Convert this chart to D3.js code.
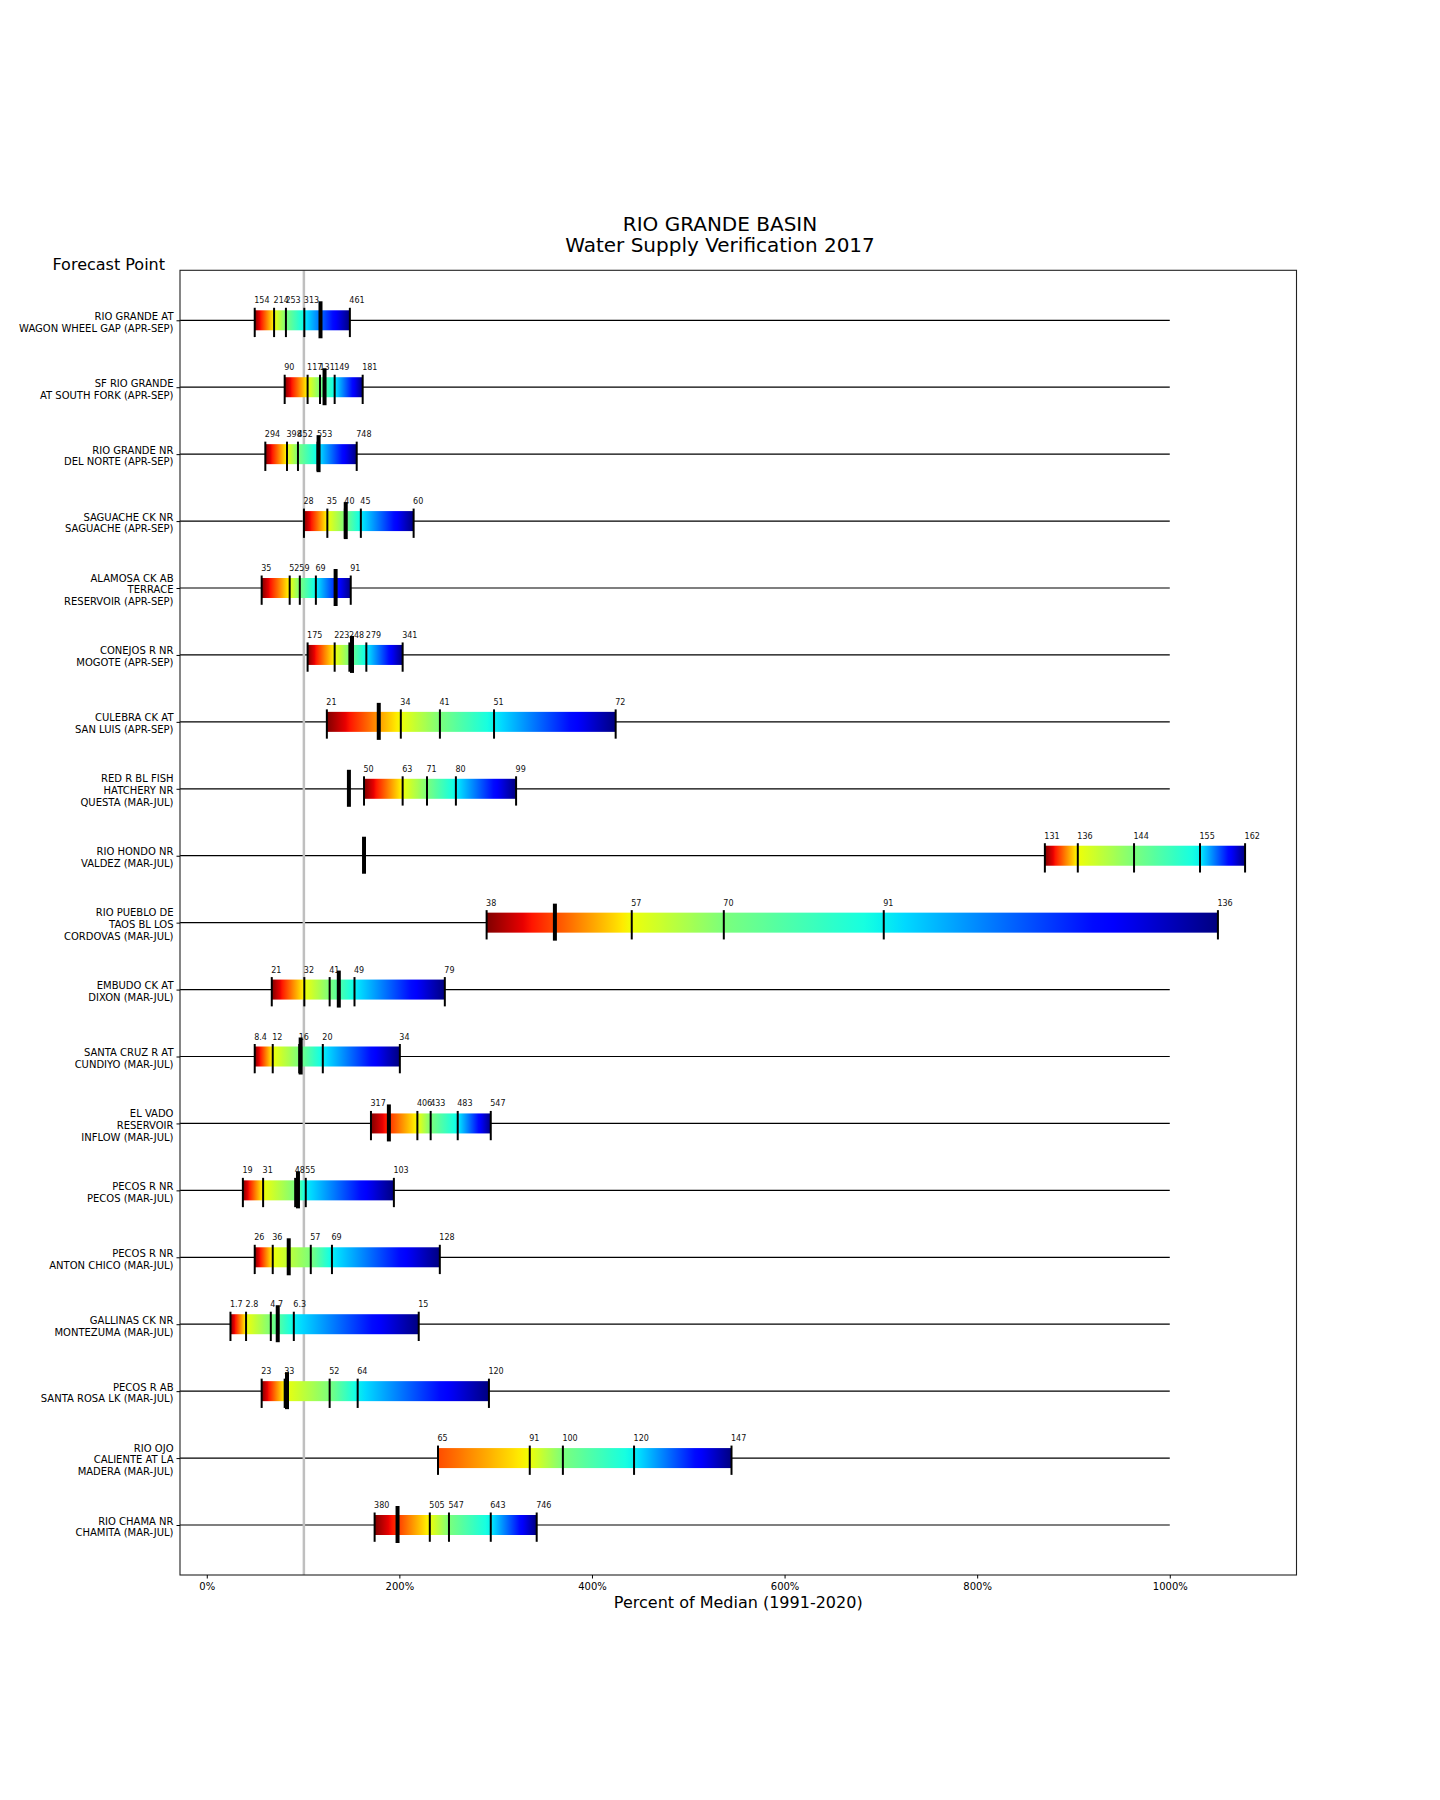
<!DOCTYPE html>
<html>
<head>
<meta charset="utf-8">
<script src="https://cdn.jsdelivr.net/npm/d3@7"></script>
<style>
  html, body { margin: 0; padding: 0; background: #fff; }
  svg { display: block; }
  text { font-family: "DejaVu Sans", sans-serif; }
</style>
</head>
<body>
<div id="chart"></div>
<script>
// ---------------- DATA ----------------
const stations = [
  "RIO GRANDE AT\nWAGON WHEEL GAP (APR-SEP)",
  "SF RIO GRANDE\nAT SOUTH FORK (APR-SEP)",
  "RIO GRANDE NR\nDEL NORTE (APR-SEP)",
  "SAGUACHE CK NR\nSAGUACHE (APR-SEP)",
  "ALAMOSA CK AB\nTERRACE\nRESERVOIR (APR-SEP)",
  "CONEJOS R NR\nMOGOTE (APR-SEP)",
  "CULEBRA CK AT\nSAN LUIS (APR-SEP)",
  "RED R BL FISH\nHATCHERY NR\nQUESTA (MAR-JUL)",
  "RIO HONDO NR\nVALDEZ (MAR-JUL)",
  "RIO PUEBLO DE\nTAOS BL LOS\nCORDOVAS (MAR-JUL)",
  "EMBUDO CK AT\nDIXON (MAR-JUL)",
  "SANTA CRUZ R AT\nCUNDIYO (MAR-JUL)",
  "EL VADO\nRESERVOIR\nINFLOW (MAR-JUL)",
  "PECOS R NR\nPECOS (MAR-JUL)",
  "PECOS R NR\nANTON CHICO (MAR-JUL)",
  "GALLINAS CK NR\nMONTEZUMA (MAR-JUL)",
  "PECOS R AB\nSANTA ROSA LK (MAR-JUL)",
  "RIO OJO\nCALIENTE AT LA\nMADERA (MAR-JUL)",
  "RIO CHAMA NR\nCHAMITA (MAR-JUL)"
];

// forecast values (90%, 70%, 50%, 30%, 10% exceedance) as percent of median
const forecastPct = [
  [49.8, 69.9, 82.2, 101.3, 148.6],
  [80.9, 104.7, 117.6, 132.8, 161.9],
  [60.8, 83.3, 94.7, 115.0, 155.7],
  [100.9, 125.2, 143.4, 160.0, 214.8],
  [57.0, 86.1, 96.6, 113.3, 149.5],
  [104.7, 132.8, 148.1, 165.7, 203.4],
  [124.7, 201.5, 242.1, 298.3, 424.6],
  [163.3, 203.4, 228.7, 258.7, 321.2],
  [870.3, 904.5, 962.9, 1031.4, 1078.2],
  [290.6, 441.3, 536.9, 703.0, 1050.0],
  [67.5, 101.3, 127.6, 153.4, 247.2],
  [49.8, 68.5, 96.0, 120.5, 200.5],
  [170.5, 218.7, 232.5, 260.6, 294.9],
  [37.5, 58.5, 91.8, 102.8, 194.3],
  [49.8, 68.5, 108.0, 130.0, 242.0],
  [24.6, 40.8, 66.5, 90.4, 220.1],
  [57.0, 80.9, 127.6, 156.7, 293.0],
  [240.1, 335.4, 369.8, 443.7, 544.9],
  [174.3, 231.6, 251.5, 294.9, 342.6]
];

// forecast volumes printed above each tick
const forecastLabels = [
  ["154", "214", "253", "313", "461"],
  ["90", "117", "131", "149", "181"],
  ["294", "398", "452", "553", "748"],
  ["28", "35", "40", "45", "60"],
  ["35", "52", "59", "69", "91"],
  ["175", "223", "248", "279", "341"],
  ["21", "34", "41", "51", "72"],
  ["50", "63", "71", "80", "99"],
  ["131", "136", "144", "155", "162"],
  ["38", "57", "70", "91", "136"],
  ["21", "32", "41", "49", "79"],
  ["8.4", "12", "16", "20", "34"],
  ["317", "406", "433", "483", "547"],
  ["19", "31", "48", "55", "103"],
  ["26", "36", "57", "69", "128"],
  ["1.7", "2.8", "4.7", "6.3", "15"],
  ["23", "33", "52", "64", "120"],
  ["65", "91", "100", "120", "147"],
  ["380", "505", "547", "643", "746"]
];

// observed volume as percent of median (null = none)
const observedPct = [
  118.1, 122.3, 116.1, 144.3, 133.8, 150.8, 178.6, 147.6, 163.3, 361.5,
  137.1, 97.5, 189.1, 94.7, 85.1, 73.7, 83.3, null, 198.1
];

const xTicks = [0, 200, 400, 600, 800, 1000];
const medianPct = 100;
const lineEndPct = 1000;

// ---------------- DRAWING ----------------
const W = 1440, H = 1800;
const svg = d3.select("#chart").append("svg")
  .attr("width", W).attr("height", H)
  .attr("viewBox", `0 0 ${W} ${H}`);
svg.append("rect").attr("width", W).attr("height", H).attr("fill", "#fff");

const plot = { left: 180, right: 1296.5, top: 270.3, bottom: 1575 };

const x = d3.scaleLinear().domain([-27.8, 1131.6]).range([plot.left, plot.right]);
const y = d3.scalePoint().domain(d3.range(stations.length))
  .range([plot.top, plot.bottom]).padding(0.747);

// matplotlib "jet" colormap
const jetSeg = {
  r: [[0, 0], [0.35, 0], [0.66, 1], [0.89, 1], [1, 0.5]],
  g: [[0, 0], [0.125, 0], [0.375, 1], [0.64, 1], [0.91, 0], [1, 0]],
  b: [[0, 0.5], [0.11, 1], [0.34, 1], [0.65, 0], [1, 0]]
};
function seg(s, t) {
  t = Math.max(0, Math.min(1, t));
  for (let k = 0; k < s.length - 1; k++) {
    if (t <= s[k + 1][0]) {
      const f = (t - s[k][0]) / (s[k + 1][0] - s[k][0]);
      return s[k][1] + f * (s[k + 1][1] - s[k][1]);
    }
  }
  return s[s.length - 1][1];
}
function jetR(t) { // reversed jet
  const u = 1 - t;
  return d3.rgb(seg(jetSeg.r, u) * 255, seg(jetSeg.g, u) * 255, seg(jetSeg.b, u) * 255).formatHex();
}
const tickShade = [0, 0.36, 0.5, 0.64, 1];
const startShadeOverride = { 17: 0.17 };

const defs = svg.append("defs");
const clip = defs.append("clipPath").attr("id", "plotclip");
clip.append("rect").attr("x", plot.left).attr("y", plot.top)
  .attr("width", plot.right - plot.left).attr("height", plot.bottom - plot.top);

const g = svg.append("g");

// row lines
g.append("g").attr("clip-path", "url(#plotclip)")
  .selectAll("line").data(stations).join("line")
  .attr("x1", plot.left).attr("x2", x(lineEndPct))
  .attr("y1", (d, i) => y(i)).attr("y2", (d, i) => y(i))
  .attr("stroke", "#000").attr("stroke-width", 1.2);

// median line
g.append("line")
  .attr("x1", x(medianPct) + 0.8).attr("x2", x(medianPct) + 0.8)
  .attr("y1", plot.top).attr("y2", plot.bottom)
  .attr("stroke", "#bfbfbf").attr("stroke-width", 2.5);

// gradients + bars
forecastPct.forEach((vals, i) => {
  const x1 = x(vals[0]), x2 = x(vals[vals.length - 1]);
  const grad = defs.append("linearGradient").attr("id", "grad" + i)
    .attr("gradientUnits", "userSpaceOnUse")
    .attr("x1", x1).attr("x2", x2).attr("y1", 0).attr("y2", 0);
  const shades = tickShade.slice();
  if (startShadeOverride[i] !== undefined) shades[0] = startShadeOverride[i];
  const N = 16;
  for (let s = 0; s < vals.length - 1; s++) {
    for (let k = 0; k <= N; k++) {
      if (s > 0 && k === 0) continue;
      const f = k / N;
      const v = vals[s] + f * (vals[s + 1] - vals[s]);
      const t = shades[s] + f * (shades[s + 1] - shades[s]);
      grad.append("stop")
        .attr("offset", ((x(v) - x1) / (x2 - x1)).toFixed(5))
        .attr("stop-color", jetR(t));
    }
  }
});

const rows = g.append("g").selectAll("g.row").data(forecastPct).join("g")
  .attr("class", "row")
  .attr("transform", (d, i) => `translate(0,${y(i)})`);

rows.append("rect")
  .attr("x", d => x(d[0]))
  .attr("width", d => x(d[d.length - 1]) - x(d[0]))
  .attr("y", -10).attr("height", 20)
  .attr("fill", (d, i) => `url(#grad${i})`);

rows.selectAll("line.fc").data(d => d).join("line")
  .attr("class", "fc")
  .attr("x1", v => x(v)).attr("x2", v => x(v))
  .attr("y1", -12.5).attr("y2", 16.8)
  .attr("stroke", "#000").attr("stroke-width", 2);

rows.selectAll("text.val").data((d, i) => d.map((v, j) => ({ v, lab: forecastLabels[i][j] })))
  .join("text").attr("class", "val")
  .attr("x", o => x(o.v) - 0.5).attr("y", -17)
  .attr("font-size", 8).attr("fill", "#111")
  .text(o => o.lab);

// observed marks
g.append("g").selectAll("line.obs")
  .data(observedPct.map((v, i) => ({ v, i })).filter(o => o.v !== null))
  .join("line").attr("class", "obs")
  .attr("x1", o => x(o.v)).attr("x2", o => x(o.v))
  .attr("y1", o => y(o.i) - 19).attr("y2", o => y(o.i) + 18)
  .attr("stroke", "#000").attr("stroke-width", 4);

// frame
g.append("rect")
  .attr("x", plot.left).attr("y", plot.top)
  .attr("width", plot.right - plot.left).attr("height", plot.bottom - plot.top)
  .attr("fill", "none").attr("stroke", "#222").attr("stroke-width", 1.1);

// x axis
const xAxis = d3.axisBottom(x).tickValues(xTicks).tickSize(3.5).tickPadding(4)
  .tickFormat(d => d + "%");
const xg = svg.append("g").attr("transform", `translate(0,${plot.bottom})`).call(xAxis);
xg.select(".domain").remove();
xg.selectAll("text").attr("font-family", "DejaVu Sans").attr("font-size", 10).attr("fill", "#000");
xg.selectAll("line").attr("stroke", "#000");

// y axis ticks and multi-line labels
const yAxis = d3.axisLeft(y).tickSize(3.5).tickFormat("");
const yg = svg.append("g").attr("transform", `translate(${plot.left},0)`).call(yAxis);
yg.select(".domain").remove();
yg.selectAll("line").attr("stroke", "#000");

const lineGap = 11.8;
svg.append("g").selectAll("text.ylab").data(stations).join("text")
  .attr("class", "ylab")
  .attr("font-size", 10).attr("fill", "#000")
  .attr("text-anchor", "end")
  .each(function (d, i) {
    const lines = d.split("\n");
    const n = lines.length;
    d3.select(this).selectAll("tspan").data(lines).join("tspan")
      .attr("x", 173.5)
      .attr("y", (l, k) => y(i) + 4.6 + 0.8 + (k - (n - 1) / 2) * lineGap)
      .text(l => l);
  });

// titles
svg.append("text").attr("x", 720).attr("y", 230.7).attr("text-anchor", "middle")
  .attr("font-size", 20).attr("fill", "#000").text("RIO GRANDE BASIN");
svg.append("text").attr("x", 720).attr("y", 252.4).attr("text-anchor", "middle")
  .attr("font-size", 20).attr("fill", "#000").text("Water Supply Verification 2017");
svg.append("text").attr("x", 165).attr("y", 270).attr("text-anchor", "end")
  .attr("font-size", 16).attr("fill", "#000").text("Forecast Point");
svg.append("text").attr("x", (plot.left + plot.right) / 2).attr("y", 1607.5).attr("text-anchor", "middle")
  .attr("font-size", 16).attr("fill", "#000").text("Percent of Median (1991-2020)");
</script>
</body>
</html>
